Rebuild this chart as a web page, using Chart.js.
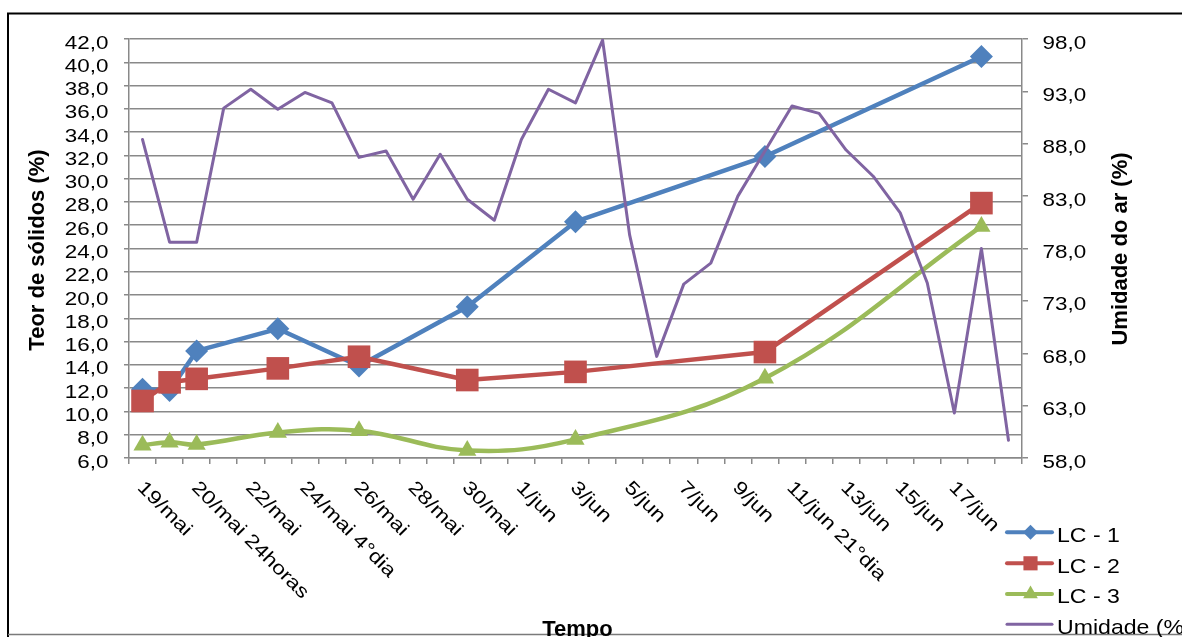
<!DOCTYPE html>
<html>
<head>
<meta charset="utf-8">
<script src="https://cdn.jsdelivr.net/npm/chart.js@4.4.1/dist/chart.umd.min.js"></script>
<style>
  html, body { margin: 0; padding: 0; background: #fff; overflow: hidden; }
  canvas { display: block; }
</style>
</head>
<body>
<canvas id="chart" width="1182" height="637"></canvas>
<script>
// Category axis: one slot per sampling day, labelled every second slot
const tickLabels = [
  '19/mai', '', '20/mai 24horas', '', '22/mai', '', '24/mai 4°dia', '', '26/mai', '',
  '28/mai', '', '30/mai', '', '1/jun', '', '3/jun', '', '5/jun', '', '7/jun', '',
  '9/jun', '', '11/jun 21°dia', '', '13/jun', '', '15/jun', '', '17/jun', '', ''
];

// Slots in which the solids content was measured
const lcSlots = [0, 1, 2, 5, 8, 12, 16, 23, 31];
// Teor de sólidos (%)
const lc1 = [11.9, 11.8, 15.2, 17.1, 13.9, 19.0, 26.3, 31.9, 40.5];
const lc2 = [10.9, 12.5, 12.8, 13.7, 14.7, 12.7, 13.4, 15.1, 27.9];
const lc3 = [7.1, 7.35, 7.15, 8.2, 8.35, 6.65, 7.6, 12.85, 25.9];
// Umidade do ar (%), one reading per slot
const humidity = [
  88.4, 78.6, 78.6, 91.4, 93.2, 91.3, 92.9, 91.9, 86.7, 87.3, 82.7, 87.0,
  82.7, 80.7, 88.4, 93.2, 91.9, 97.9, 79.3, 67.7, 74.6, 76.6, 83.0, 87.3,
  91.6, 90.9, 87.4, 84.9, 81.4, 74.7, 62.3, 78.0, 59.7
];

const BLUE = '#4F81BD', RED = '#C0504D', GREEN = '#9BBB59', PURPLE = '#8064A2';
const GRID = '#898989';
const FONT = "'Liberation Sans', Arial, sans-serif";

// spread sparse samples over the full category axis
function spread(values) {
  const out = tickLabels.map(() => null);
  lcSlots.forEach((slot, k) => { out[slot] = values[k]; });
  return out;
}

function fmt(v) { return v.toFixed(1).replace('.', ','); }

function drawText(ctx, s, x, y, o) {
  ctx.save();
  ctx.translate(x, y);
  if (o.rot) ctx.rotate(o.rot);
  if (o.sx && o.sx !== 1) ctx.scale(o.sx, 1);
  ctx.font = o.font;
  ctx.textAlign = o.align || 'left';
  ctx.textBaseline = 'alphabetic';
  ctx.fillStyle = '#000';
  ctx.fillText(s, 0, 0);
  ctx.restore();
}

function marker(ctx, style, r, x, y, color) {
  ctx.save();
  ctx.fillStyle = color;
  ctx.beginPath();
  if (style === 'rectRot') {
    ctx.moveTo(x - r, y); ctx.lineTo(x, y - r); ctx.lineTo(x + r, y); ctx.lineTo(x, y + r);
  } else if (style === 'rect') {
    const h = r * Math.SQRT1_2;
    ctx.rect(x - h, y - h, 2 * h, 2 * h);
  } else if (style === 'triangle') {
    ctx.moveTo(x, y - r);
    ctx.lineTo(x + r * Math.sin(Math.PI * 2 / 3), y - r * Math.cos(Math.PI * 2 / 3));
    ctx.lineTo(x - r * Math.sin(Math.PI * 2 / 3), y - r * Math.cos(Math.PI * 2 / 3));
  }
  ctx.closePath();
  ctx.fill();
  ctx.restore();
}

// Frame, tick labels, axis titles and legend
const decorations = {
  id: 'decorations',
  afterDraw(chart) {
    const ctx = chart.ctx;
    const xs = chart.scales.x, ys = chart.scales.y, ys1 = chart.scales.y1;

    // outer frame
    ctx.save();
    ctx.strokeStyle = '#000';
    ctx.lineWidth = 2;
    ctx.beginPath();
    ctx.moveTo(8, 637); ctx.lineTo(8, 13.5); ctx.lineTo(1182, 13.5);
    ctx.stroke();
    ctx.strokeStyle = '#7a7a7a';
    ctx.lineWidth = 1.5;
    ctx.beginPath();
    ctx.moveTo(8, 634.5); ctx.lineTo(1182, 634.5);
    ctx.stroke();
    ctx.restore();

    const tickFont = '19px ' + FONT;
    ys.ticks.forEach(t => {
      drawText(ctx, fmt(t.value), 108.5, ys.getPixelForValue(t.value) + 9.5,
        { font: tickFont, align: 'right', sx: 1.18 });
    });
    ys1.ticks.forEach(t => {
      drawText(ctx, fmt(t.value), 1042.5, ys1.getPixelForValue(t.value) + 9.5,
        { font: tickFont, align: 'left', sx: 1.18 });
    });

    tickLabels.forEach((lab, i) => {
      if (!lab) return;
      const px = xs.getPixelForValue(i);
      drawText(ctx, lab, px - 6, 488.5, { font: tickFont, rot: Math.PI / 4, sx: 1.2 });
    });

    const titleFont = 'bold 22px ' + FONT;
    drawText(ctx, 'Teor de sólidos (%)', 43.5, 250, { font: titleFont, align: 'center', rot: -Math.PI / 2 });
    drawText(ctx, 'Umidade do ar (%)', 1126.5, 249, { font: titleFont, align: 'center', rot: -Math.PI / 2 });
    drawText(ctx, 'Tempo', (chart.chartArea.left + chart.chartArea.right) / 2 + 2, 636, { font: titleFont, align: 'center' });

    // legend
    const rows = [532.3, 563.3, 594, 624.3];
    chart.data.datasets.forEach((ds, k) => {
      const y = rows[k];
      ctx.save();
      ctx.strokeStyle = ds.borderColor;
      ctx.lineWidth = ds.pointRadius ? 4 : 3;
      ctx.lineCap = 'round';
      ctx.beginPath();
      ctx.moveTo(1007, y); ctx.lineTo(1052, y);
      ctx.stroke();
      ctx.restore();
      if (ds.pointRadius) marker(ctx, ds.pointStyle, ds.legendRadius, 1030.5, y, ds.backgroundColor);
      drawText(ctx, ds.label, 1057, y + 9.4, { font: '21px ' + FONT, sx: 1.1 });
    });
  }
};

new Chart(document.getElementById('chart'), {
  type: 'line',
  data: {
    labels: tickLabels,
    datasets: [
      {
        label: 'LC - 1', data: spread(lc1), yAxisID: 'y',
        borderColor: BLUE, backgroundColor: BLUE, borderWidth: 4.5,
        pointStyle: 'rectRot', pointRadius: 11.5, legendRadius: 7.5, pointBorderWidth: 0,
        spanGaps: true, tension: 0, order: 4
      },
      {
        label: 'LC - 2', data: spread(lc2), yAxisID: 'y',
        borderColor: RED, backgroundColor: RED, borderWidth: 4.5,
        pointStyle: 'rect', pointRadius: 16, legendRadius: 10, pointBorderWidth: 0,
        spanGaps: true, tension: 0, order: 3
      },
      {
        label: 'LC - 3', data: spread(lc3), yAxisID: 'y',
        borderColor: GREEN, backgroundColor: GREEN, borderWidth: 4.5,
        pointStyle: 'triangle', pointRadius: 10.5, legendRadius: 8.5, pointBorderWidth: 0,
        spanGaps: true, tension: 0.4, order: 2
      },
      {
        label: 'Umidade (%)', data: humidity, yAxisID: 'y1',
        borderColor: PURPLE, backgroundColor: PURPLE, borderWidth: 3,
        pointRadius: 0, tension: 0, order: 1
      }
    ]
  },
  options: {
    responsive: false,
    animation: false,
    devicePixelRatio: 1,
    events: [],
    elements: { line: { borderJoinStyle: 'round', borderCapStyle: 'round' } },
    layout: { padding: { top: 39, left: 0, right: 0, bottom: 0 } },
    plugins: { legend: { display: false }, tooltip: { enabled: false }, title: { display: false } },
    scales: {
      x: {
        type: 'category', offset: true,
        grid: { offset: true, drawOnChartArea: false, drawTicks: true, tickLength: 6, color: GRID, lineWidth: 1.5 },
        border: { color: GRID, width: 1.5 },
        ticks: { display: false, autoSkip: false },
        afterFit(s) { s.height = 637 - 458; }
      },
      y: {
        position: 'left', min: 6, max: 42,
        ticks: { display: false, stepSize: 2 },
        grid: { color: GRID, lineWidth: 1.5, tickLength: 5 },
        border: { color: GRID, width: 1.5 },
        afterFit(s) { s.width = 129; }
      },
      y1: {
        position: 'right', min: 58, max: 98,
        ticks: { display: false, stepSize: 5 },
        grid: { drawOnChartArea: false, tickLength: 6, color: GRID, lineWidth: 1.5 },
        border: { color: GRID, width: 1.5 },
        afterFit(s) { s.width = 1182 - 1022; }
      }
    }
  },
  plugins: [decorations]
});
</script>
</body>
</html>
